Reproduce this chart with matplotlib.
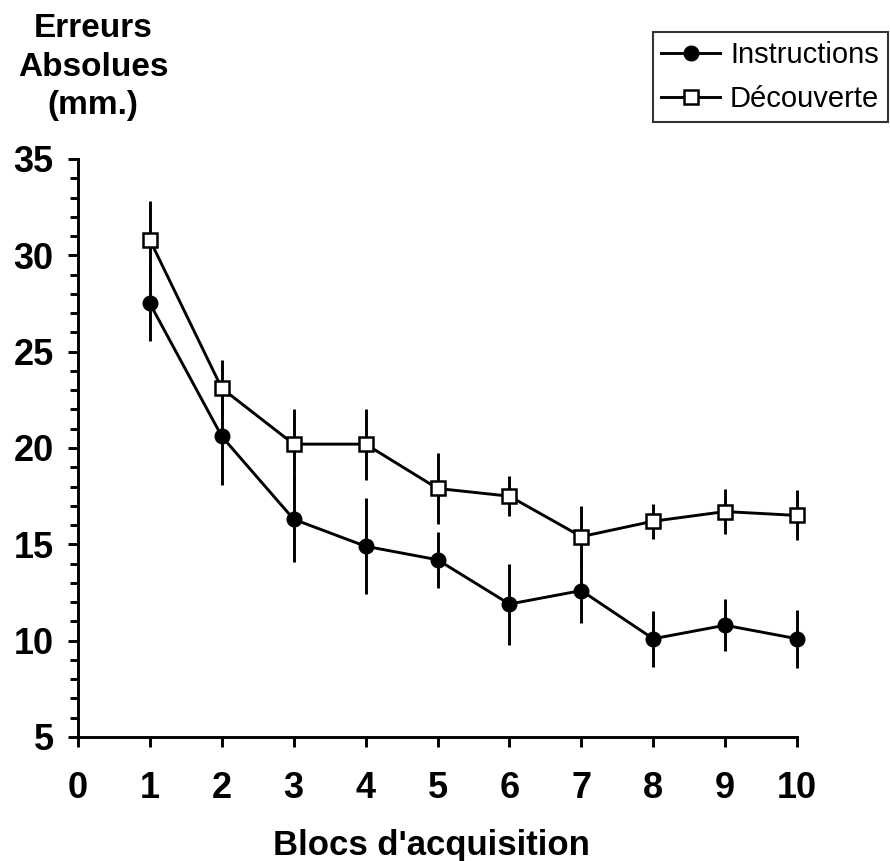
import numpy as np
import matplotlib
matplotlib.use('Agg')
import matplotlib.pyplot as plt
from matplotlib.ticker import MultipleLocator

plt.rcParams['font.family'] = ['Liberation Sans', 'DejaVu Sans']

# Blocs d'acquisition
blocs = [1, 2, 3, 4, 5, 6, 7, 8, 9, 10]

# Erreurs absolues moyennes (mm.) et erreurs-types
instr_mean = [27.5, 20.6, 16.3, 14.9, 14.2, 11.9, 12.6, 10.1, 10.8, 10.1]
instr_err = [1.95, 2.5, 2.2, 2.5, 1.45, 2.1, 1.7, 1.45, 1.35, 1.5]
decouv_mean = [30.8, 23.1, 20.2, 20.2, 17.9, 17.5, 15.4, 16.2, 16.7, 16.5]
decouv_err = [2.0, 1.45, 1.85, 1.85, 1.85, 1.05, 1.6, 0.9, 1.15, 1.3]

x_ticks = list(range(0, 11))
y_ticks = [5, 10, 15, 20, 25, 30, 35]
y_title = ['Erreurs', 'Absolues', '(mm.)']

LW = 2.1

fig = plt.figure(figsize=(8.9, 8.61), dpi=100)
ax = fig.add_axes([78 / 890, 1 - 737 / 861, (797 - 78) / 890, (737 - 159) / 861])

ax.errorbar(blocs, instr_mean, yerr=instr_err, fmt='none', ecolor='black',
            elinewidth=LW, capsize=0, zorder=2, clip_on=False)
ax.errorbar(blocs, decouv_mean, yerr=decouv_err, fmt='none', ecolor='black',
            elinewidth=LW, capsize=0, zorder=2, clip_on=False)

ax.plot(blocs, instr_mean, color='black', lw=LW, marker='o', markersize=10.5,
        markerfacecolor='black', markeredgecolor='black', label='Instructions',
        zorder=3, clip_on=False)
ax.plot(blocs, decouv_mean, color='black', lw=LW, marker='s', markersize=9.5,
        markerfacecolor='white', markeredgecolor='black', markeredgewidth=1.8,
        label='Découverte', zorder=4, clip_on=False)

ax.set_xlim(0, 10)
ax.set_ylim(5, 35)
ax.set_xticks(x_ticks)
ax.set_yticks(y_ticks)
ax.yaxis.set_minor_locator(MultipleLocator(1))

for side in ('top', 'right'):
    ax.spines[side].set_visible(False)
for side in ('left', 'bottom'):
    ax.spines[side].set_linewidth(LW)

ax.tick_params(axis='both', which='major', direction='out', width=LW,
               length=7.5)
ax.tick_params(axis='y', which='minor', direction='out', width=LW, length=5.5)
ax.tick_params(axis='y', which='major', pad=10, labelsize=26)
ax.tick_params(axis='x', which='major', pad=17, labelsize=26)
for lab in ax.get_xticklabels() + ax.get_yticklabels():
    lab.set_fontweight('bold')

fig.text(431 / 890, 1 - 855 / 861, "Blocs d'acquisition", ha='center',
         va='baseline', fontsize=25, fontweight='bold')
for i, line in enumerate(y_title):
    fig.text(93 / 890, 1 - (37 + 38.5 * i) / 861, line, ha='center',
             va='baseline', fontsize=24, fontweight='bold')

leg = ax.legend(loc='upper right', bbox_to_anchor=(888 / 890, 1 - 32 / 861),
                bbox_transform=fig.transFigure, fontsize=21, frameon=True,
                fancybox=False, handlelength=2.0, handletextpad=0.35,
                labelspacing=0.55, borderpad=0.3, borderaxespad=0)
leg.get_frame().set_edgecolor('black')
leg.get_frame().set_linewidth(1.5)

fig.savefig('out.png', dpi=100)
